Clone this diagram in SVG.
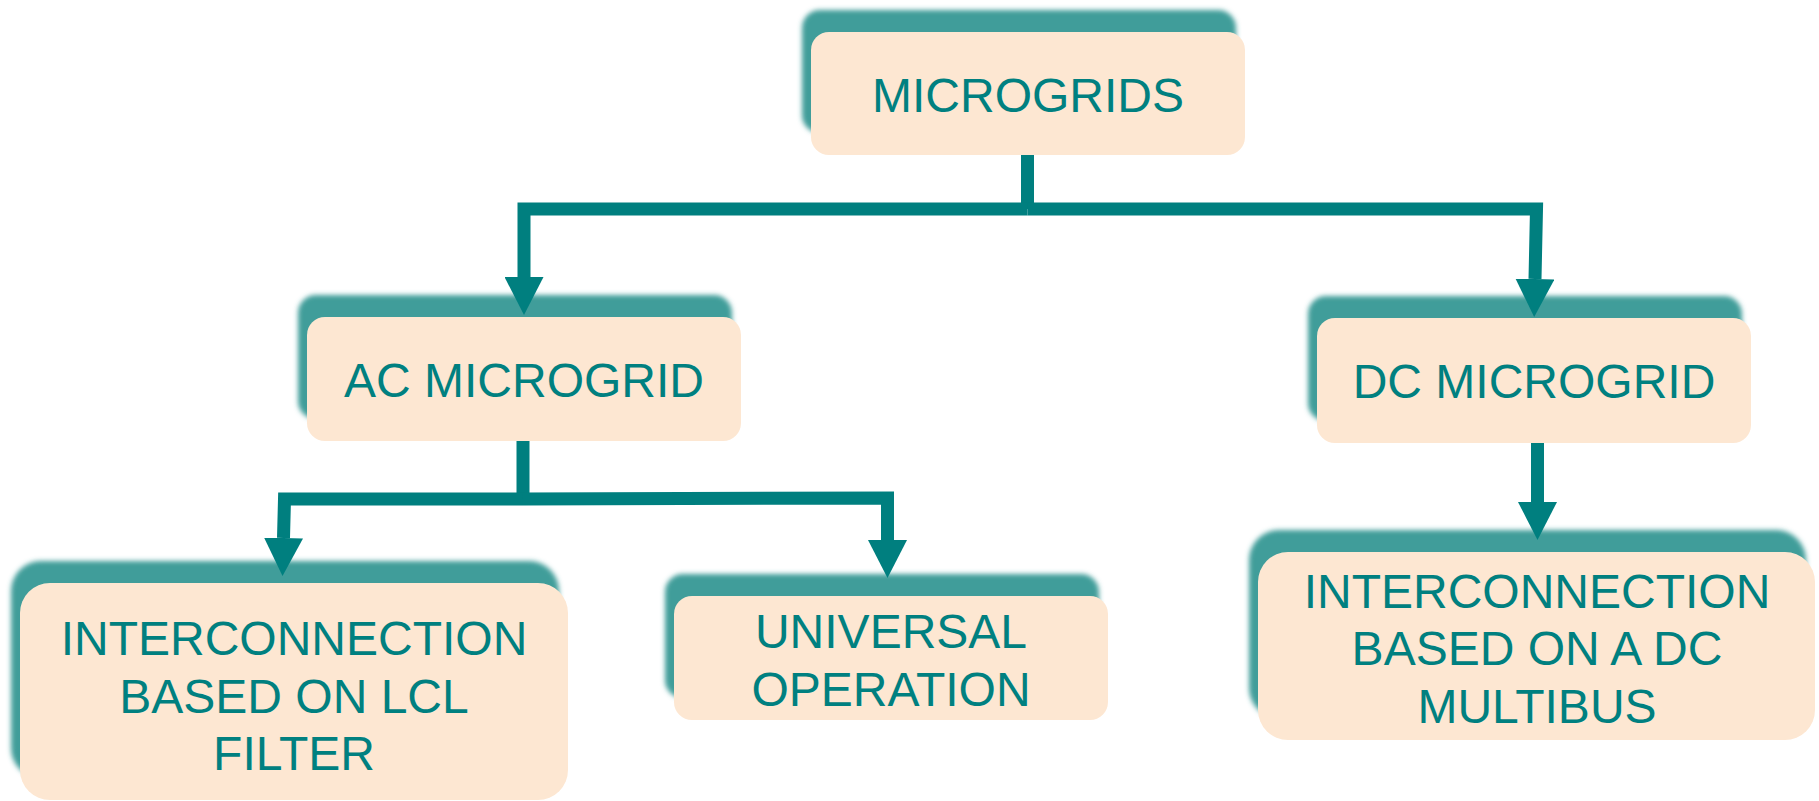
<svg xmlns="http://www.w3.org/2000/svg" width="1819" height="801" viewBox="0 0 1819 801">
  <defs>
    <filter id="soft" x="-10%" y="-30%" width="120%" height="160%">
      <feGaussianBlur stdDeviation="2.5"/>
    </filter>
    <marker id="arrow" markerUnits="userSpaceOnUse" markerWidth="38" markerHeight="39" viewBox="0 0 38 39" refX="0" refY="19.5" orient="auto">
      <path d="M0,0 L38,19.5 L0,39 Z" fill="#007f7f"/>
    </marker>
  </defs>
  <style>
    .shadow { fill: #3f9d9a; filter: url(#soft); }
    .box { fill: #fde7d2; }
    .label { font-family: "Liberation Sans", Arial, sans-serif; font-size: 48px; fill: #008080; text-anchor: middle; }
    .conn { fill: none; stroke: #007f7f; stroke-width: 13; stroke-linejoin: miter; stroke-linecap: butt; }
  </style>
  <rect width="1819" height="801" fill="#ffffff"/>

  <g id="node-microgrids">
    <rect class="shadow" x="802" y="10" width="434" height="123" rx="18"/>
    <rect class="box" x="811" y="32" width="434" height="123" rx="18"/>
    <text class="label" x="1028" y="112">MICROGRIDS</text>
  </g>

  <g id="node-ac-microgrid">
    <rect class="shadow" x="298" y="295" width="434" height="124" rx="18"/>
    <rect class="box" x="307" y="317" width="434" height="124" rx="18"/>
    <text class="label" x="524" y="397">AC MICROGRID</text>
  </g>

  <g id="node-dc-microgrid">
    <rect class="shadow" x="1308" y="296" width="434" height="125" rx="18"/>
    <rect class="box" x="1317" y="318" width="434" height="125" rx="18"/>
    <text class="label" x="1534" y="398">DC MICROGRID</text>
  </g>

  <g id="node-lcl-filter">
    <rect class="shadow" x="11" y="561" width="548" height="217" rx="30"/>
    <rect class="box" x="20" y="583" width="548" height="217" rx="30"/>
    <text class="label" x="294" y="655">INTERCONNECTION</text>
    <text class="label" x="294" y="713">BASED ON LCL</text>
    <text class="label" x="294" y="770">FILTER</text>
  </g>

  <g id="node-universal">
    <rect class="shadow" x="665" y="574" width="434" height="124" rx="18"/>
    <rect class="box" x="674" y="596" width="434" height="124" rx="18"/>
    <text class="label" x="891" y="648">UNIVERSAL</text>
    <text class="label" x="891" y="706">OPERATION</text>
  </g>

  <g id="node-dc-multibus">
    <rect class="shadow" x="1249" y="530" width="557" height="188" rx="30"/>
    <rect class="box" x="1258" y="552" width="557" height="188" rx="30"/>
    <text class="label" x="1537" y="608">INTERCONNECTION</text>
    <text class="label" x="1537" y="665">BASED ON A DC</text>
    <text class="label" x="1537" y="723">MULTIBUS</text>
  </g>

  <g id="connectors">
    <path class="conn" d="M1027.5,155 L1027.5,209"/>
    <path class="conn" d="M1027.5,209 L524,209 L524,277" marker-end="url(#arrow)"/>
    <path class="conn" d="M1027.5,209 L1536.5,209 L1535,279" marker-end="url(#arrow)"/>
    <path class="conn" d="M523,441 L523,499"/>
    <path class="conn" d="M523,499 L284.5,499 L283.5,538" marker-end="url(#arrow)"/>
    <path class="conn" d="M523,499 L887.5,498 L887.5,540" marker-end="url(#arrow)"/>
    <path class="conn" d="M1537.5,443 L1537.5,502" marker-end="url(#arrow)"/>
  </g>
</svg>
